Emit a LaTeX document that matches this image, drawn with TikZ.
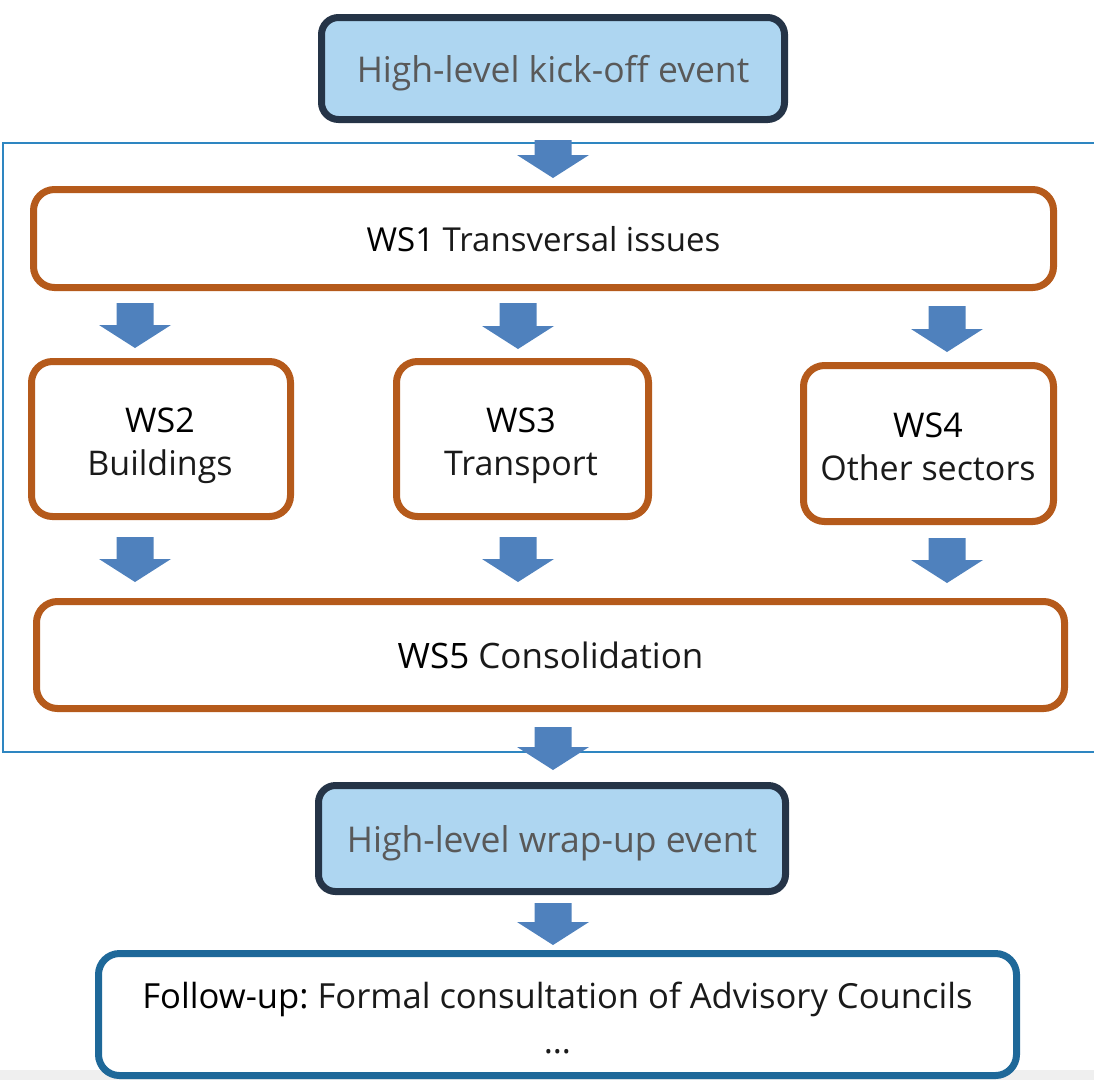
\documentclass[tikz,border=0pt]{standalone}
\usepackage{fontspec}
\setmainfont{Open Sans}
\usetikzlibrary{calc}
\frenchspacing
\definecolor{orangeb}{HTML}{B55A1B}
\definecolor{navyb}{HTML}{253447}
\definecolor{lightbl}{HTML}{AED6F1}
\definecolor{followbl}{HTML}{1E6899}
\definecolor{framebl}{HTML}{2E86C1}
\definecolor{arrowbl}{HTML}{4F81BD}
\definecolor{grtext}{HTML}{595959}
\definecolor{stripgr}{HTML}{EFEFEF}
\definecolor{dtext}{HTML}{1A1A1A}
\newcommand\blkarrow[2]{%
  \fill[arrowbl] let \p1=(#1), \p2=(#2) in
    (\x1-18.5pt,\y1) -- (\x1+18.5pt,\y1) -- (\x1+18.5pt,\y2+23pt) --
    (\x1+36pt,\y2+23pt) -- (\x1,\y2) -- (\x1-36pt,\y2+23pt) --
    (\x1-18.5pt,\y2+23pt) -- cycle;}
\tikzset{
  eventbox/.style={draw=navyb, fill=lightbl, line width=7pt, rounded corners=17pt,
    text=grtext, font=\fontsize{35.5}{42}\selectfont, inner sep=0pt, text depth=0pt},
  wsbox/.style={draw=orangeb, fill=white, line width=7pt, rounded corners=21pt,
    text=dtext, font=\fontsize{35}{45}\selectfont, inner sep=0pt, text depth=0pt},
  followbox/.style={draw=followbl, fill=white, line width=7pt, rounded corners=21pt,
    inner sep=0pt},
  wstext/.style={text=dtext, font=\fontsize{34}{40}\selectfont, inner sep=0pt, anchor=base},
  fltext/.style={text=dtext, font=\fontsize{34.6}{40}\selectfont, inner sep=0pt, anchor=base}
}
\begin{document}
\begin{tikzpicture}[x=1pt,y=-1pt]
\useasboundingbox (0,0) rectangle (1094,1080);
\clip (0,0) rectangle (1094,1080);
\fill[stripgr] (0,1070) rectangle (1094,1080);
\draw[framebl, line width=2pt] (3,143) rectangle (1110,752);

\node[eventbox, minimum width=463pt, minimum height=102pt] (kick) at (553,68.5) {High-level kick-off event};
\node[wsbox, font=\fontsize{33}{40}\selectfont, minimum width=1020pt, minimum height=98pt] (ws1) at (543.5,238.5) {\textcolor{black}{WS1} Transversal issues};
\node[wsbox, minimum width=259pt, minimum height=155pt] (ws2) at (161,439) {};
\node[wsbox, minimum width=252pt, minimum height=155pt] (ws3) at (522.5,439) {};
\node[wsbox, minimum width=250pt, minimum height=156pt] (ws4) at (928.5,443.5) {};
\node[wsbox, minimum width=1028pt, minimum height=107pt] (ws5) at (550.5,655) {\textcolor{black}{WS5} Consolidation};
\node[eventbox, minimum width=467pt, minimum height=106pt] (wrap) at (552,838.5) {High-level wrap-up event};
\node[followbox, minimum width=918pt, minimum height=122pt] (follow) at (557.5,1014.5) {};

\node[wstext, text=black] (ws2a) at (160,432) {WS2};
\node[wstext] (ws2b) at (160,475) {Buildings};
\node[wstext, text=black] (ws3a) at (521,432) {WS3};
\node[wstext] (ws3b) at (521,475) {Transport};
\node[wstext, text=black] (ws4a) at (928,437) {WS4};
\node[wstext] (ws4b) at (928,480) {Other sectors};
\node[fltext] (fla) at (557.5,1008) {\textcolor{black}{Follow-up:} Formal consultation of Advisory Councils};
\node[fltext] (flb) at (557.5,1053) {…};

\coordinate (a1s) at (553,140);  \coordinate (a1e) at (553,178);
\coordinate (a2s) at (135,303);  \coordinate (a2e) at (135,348);
\coordinate (a3s) at (518,303);  \coordinate (a3e) at (518,349);
\coordinate (a4s) at (947,306);  \coordinate (a4e) at (947,352);
\coordinate (a5s) at (135,537);  \coordinate (a5e) at (135,582);
\coordinate (a6s) at (518,537);  \coordinate (a6e) at (518,582);
\coordinate (a7s) at (947,538);  \coordinate (a7e) at (947,583);
\coordinate (a8s) at (553,727);  \coordinate (a8e) at (553,770);
\coordinate (a9s) at (553,903);  \coordinate (a9e) at (553,945);
\blkarrow{a1s}{a1e}
\blkarrow{a2s}{a2e}
\blkarrow{a3s}{a3e}
\blkarrow{a4s}{a4e}
\blkarrow{a5s}{a5e}
\blkarrow{a6s}{a6e}
\blkarrow{a7s}{a7e}
\blkarrow{a8s}{a8e}
\blkarrow{a9s}{a9e}
\end{tikzpicture}
\end{document}
